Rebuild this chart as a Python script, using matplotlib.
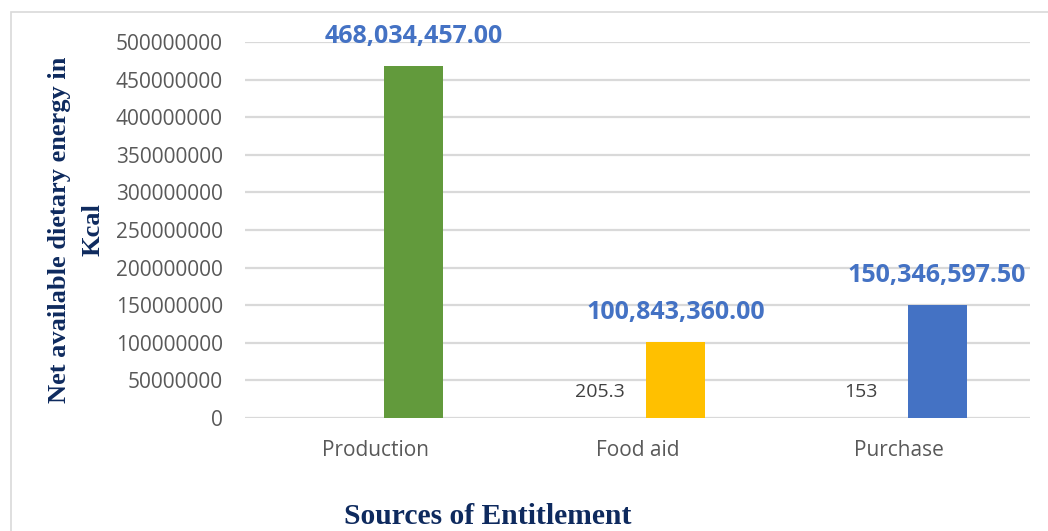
import numpy as np
import matplotlib
matplotlib.use("Agg")
import matplotlib.pyplot as plt
from matplotlib.patches import Rectangle

# data
categories = ["Production", "Food aid", "Purchase"]
small_vals = [np.nan, 205.3, 153]          # per-capita values (tiny bars)
big_vals = [468034457.00, 100843360.00, 150346597.50]
big_colors = ["#629A3C", "#FFC000", "#4472C4"]
yticks = np.arange(0, 500000001, 50000000)

W, H = 1048, 531
fig = plt.figure(figsize=(W / 100, H / 100), dpi=100)
ax = fig.add_axes([245 / W, 1 - 418 / H, (1030 - 245) / W, (418 - 42) / H])

x = np.arange(len(categories))
bw = 0.226
off = 0.145
ax.bar(x - off, np.nan_to_num(small_vals), bw, color="#A5A5A5", zorder=3)
ax.bar(x + off, big_vals, bw, color=big_colors, zorder=3)

# labels
for i, v in enumerate(small_vals):
    if not np.isnan(v):
        ax.annotate(f"{v:g}", (x[i] - off, v), xytext=(0, 12), textcoords="offset points",
                    ha="center", va="bottom", fontsize=14, color="#404040",
                    family="Open Sans")
for i, v in enumerate(big_vals):
    ax.annotate(f"{v:,.2f}", (x[i] + off, v), xytext=(0, 12), textcoords="offset points",
                ha="center", va="bottom", fontsize=18, fontweight="bold",
                color="#4472C4", family="Open Sans", annotation_clip=False)

ax.set_xlim(-0.5, len(categories) - 0.5)
ax.set_ylim(0, 500000000)
ax.set_yticks(yticks)
ax.set_yticklabels([str(t) for t in yticks])
ax.set_xticks(x)
ax.set_xticklabels(categories)
for lab in ax.get_yticklabels() + ax.get_xticklabels():
    lab.set_family("Open Sans")
    lab.set_fontsize(15)
    lab.set_color("#595959")
ax.tick_params(axis="both", length=0)
ax.tick_params(axis="y", pad=16)
ax.tick_params(axis="x", pad=16)
ax.grid(axis="y", color="#D9D9D9", linewidth=1.6, zorder=0)
for s in ax.spines.values():
    s.set_visible(False)

# y axis title (two lines) and x axis title
navy = "#0E2A5E"
fig.text(60 / W, 1 - 230 / H, "Net available dietary energy in", rotation=90,
         ha="center", va="center", fontsize=19, fontweight="bold", color=navy,
         family="Liberation Serif")
fig.text(93 / W, 1 - 230 / H, "Kcal", rotation=90,
         ha="center", va="center", fontsize=19, fontweight="bold", color=navy,
         family="Liberation Serif")
fig.text(488 / W, 1 - 517 / H, "Sources of Entitlement", ha="center", va="center",
         fontsize=21.3, fontweight="bold", color=navy, family="Liberation Serif")

# chart area border
fig.patches.append(Rectangle((11 / W, -0.05), 1.2, 1 - 12 / H + 0.05,
                             transform=fig.transFigure, fill=False,
                             edgecolor="#D9D9D9", linewidth=1.2))

fig.savefig("out.png", dpi=100)
